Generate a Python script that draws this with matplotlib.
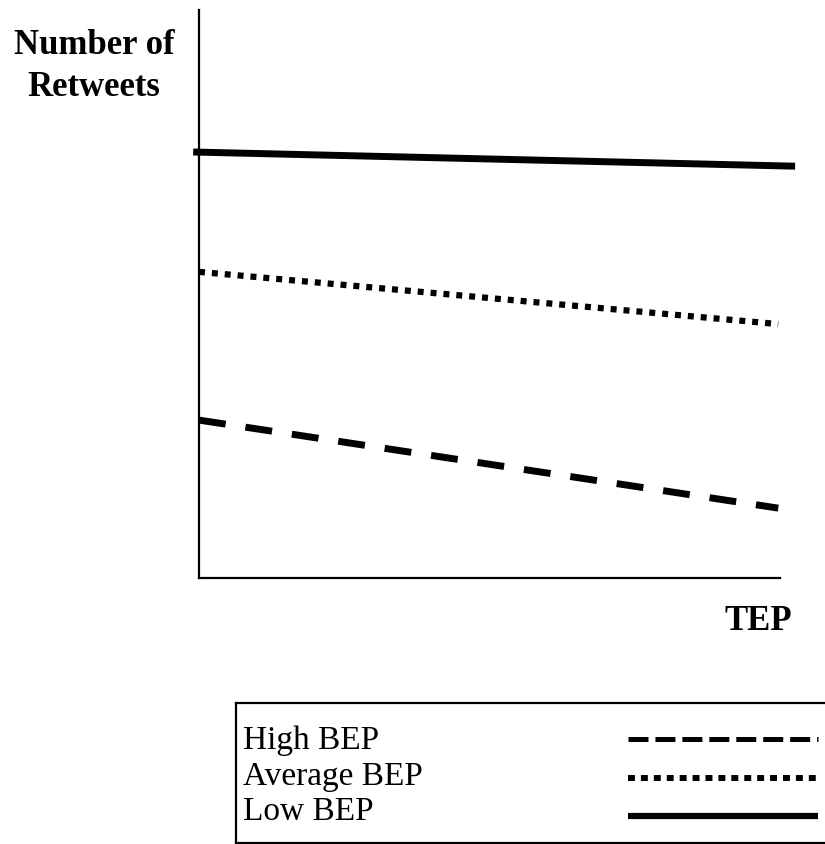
import matplotlib
matplotlib.use("Agg")
import matplotlib.pyplot as plt

plt.rcParams['font.family'] = ['Liberation Serif', 'DejaVu Serif']
plt.rcParams['lines.scale_dashes'] = False

# données (TEP bas -> haut)
series_names = ["High BEP", "Average BEP", "Low BEP"]
tep_high = [0.0, 0.997]
retweets_high = [2.78, 1.23]
tep_avg = [0.0, 0.997]
retweets_avg = [5.39, 4.47]
tep_low = [-0.01, 1.026]
retweets_low = [7.5, 7.25]

W, H = 825, 844
fig = plt.figure(figsize=(W / 100, H / 100), dpi=100)

# axe principal (positions en pixels convertis en fractions)
ax = fig.add_axes([199 / W, (H - 578) / H, (780 - 199) / W, (578 - 10) / H])
ax.set_xlim(0, 1)
ax.set_ylim(0, 10)
for s in ["top", "right"]:
    ax.spines[s].set_visible(False)
for s in ["left", "bottom"]:
    ax.spines[s].set_linewidth(1.6)
ax.set_xticks([])
ax.set_yticks([])

ax.plot(tep_high, retweets_high, color="black", lw=5, dashes=(19.4, 14.4),
        solid_capstyle="butt", dash_capstyle="butt", clip_on=False)
ax.plot(tep_avg, retweets_avg, color="black", lw=4.5, dashes=(4.3, 5.0),
        dash_capstyle="butt", clip_on=False)
ax.plot(tep_low, retweets_low, color="black", lw=5, solid_capstyle="butt",
        clip_on=False)

fig.text(94 / W, 1 - 45 / H, "Number of", ha="center", va="center",
         fontsize=25, fontweight="bold")
fig.text(94 / W, 1 - 88 / H, "Retweets", ha="center", va="center",
         fontsize=25, fontweight="bold")
fig.text(758 / W, 1 - 621 / H, "TEP", ha="center", va="center",
         fontsize=25, fontweight="bold")

# légende dessinée à la main (boîte qui dépasse à droite)
lg = fig.add_axes([236 / W, (H - 843) / H, (836 - 236) / W, (843 - 703) / H])
lg.set_xlim(236, 836)
lg.set_ylim(843, 703)
lg.set_xticks([])
lg.set_yticks([])
for s in lg.spines.values():
    s.set_linewidth(1.6)

rows_y = [739, 778, 816]
styles = [
    dict(lw=3.6, dashes=(14.4, 5.0), dash_capstyle="butt"),
    dict(lw=4.3, dashes=(5.0, 4.3), dash_capstyle="butt"),
    dict(lw=4.5, solid_capstyle="butt"),
]
text_y = [741, 777, 812]
for name, yl, yt, st in zip(series_names, rows_y, text_y, styles):
    lg.text(243, yt, name, ha="left", va="center", fontsize=24)
    lg.plot([628, 818], [yl, yl], color="black", **st)

fig.savefig("out.png", dpi=100)
